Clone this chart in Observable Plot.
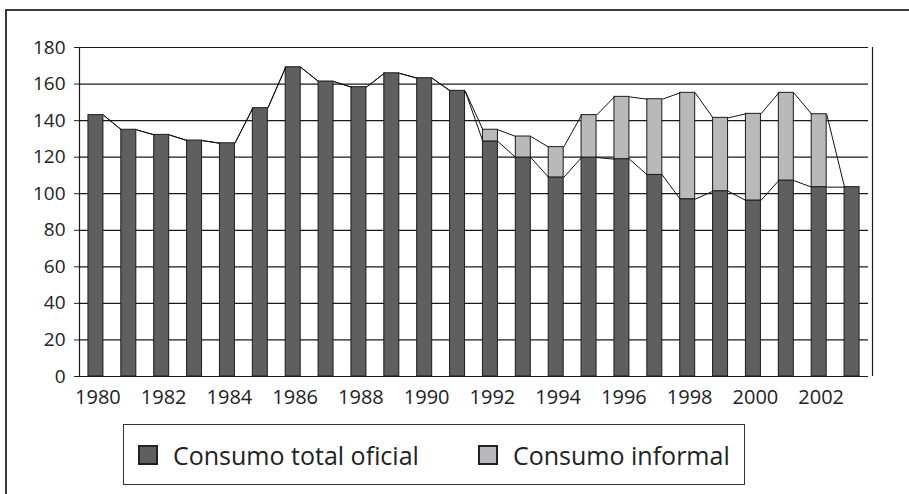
<!DOCTYPE html>
<html>
<head>
<meta charset="utf-8">
<script src="https://cdn.jsdelivr.net/npm/d3@7"></script>
<script src="https://cdn.jsdelivr.net/npm/@observablehq/plot@0.6"></script>
<style>
  html, body { margin: 0; padding: 0; background: #fff; }
  #wrap { position: relative; width: 909px; height: 494px; overflow: hidden; background: #fff; font-family: "Open Sans", sans-serif; color: #222; }
  #frame { position: absolute; left: 5px; top: 9px; width: 1000px; height: 600px; border-top: 2px solid #3a3a3a; border-left: 2px solid #3a3a3a; }
  #chart { position: absolute; left: 0; top: 0; }
  #chart g[aria-label="x-axis tick label"] { font-size: 20px; }
  #chart g[aria-label="y-axis tick label"] { font-size: 19px; }
  #legend { position: absolute; left: 123px; top: 424px; width: 620px; height: 59px; border: 1px solid #333; background: #fff; }
  .item { position: absolute; top: 0; height: 59px; display: flex; align-items: center; font-size: 25px; color: #222; white-space: nowrap; }
  .sw { width: 16px; height: 16px; border: 2px solid #222; margin-right: 15px; }
</style>
</head>
<body>
<div id="wrap">
  <div id="frame"></div>
  <div id="chart"></div>
  <div id="legend"></div>
</div>
<script>
// ---- data ----
const years = [1980, 1981, 1982, 1983, 1984, 1985, 1986, 1987, 1988, 1989, 1990, 1991,
               1992, 1993, 1994, 1995, 1996, 1997, 1998, 1999, 2000, 2001, 2002, 2003];
const consumoOficial = [143, 135, 132.2, 129.1, 127.6, 146.8, 169.2, 161.4, 158.3, 165.9, 163.2, 156.3,
                        128.6, 119.8, 108.9, 119.8, 118.9, 110.3, 97, 101.4, 96.3, 107.2, 103.6, 103.6];
const consumoInformal = [0, 0, 0, 0, 0, 0, 0, 0, 0, 0, 0, 0,
                         6.4, 11.5, 16.6, 23.2, 34.1, 41.4, 58.2, 40.1, 47.4, 48, 39.9, 0];
const yTicks = [0, 20, 40, 60, 80, 100, 120, 140, 160, 180];
const xTickLabels = [1980, 1982, 1984, 1986, 1988, 1990, 1992, 1994, 1996, 1998, 2000, 2002];
const seriesNames = ["Consumo total oficial", "Consumo informal"];
const seriesColors = ["#5f5f5f", "#b9b9bc"];

// ---- table ----
const rows = years.map((year, i) => ({
  year,
  oficial: consumoOficial[i],
  informal: consumoInformal[i],
  total: consumoOficial[i] + consumoInformal[i]
}));
const hw = 0.228; // half bar width, in band units
const pairs = rows.slice(0, -1).map((d, i) => ({a: d, b: rows[i + 1]}));

const chart = Plot.plot({
  width: 909,
  height: 410,
  marginLeft: 79,
  marginRight: 41,
  marginTop: 47,
  marginBottom: 34,
  style: {fontFamily: "'Open Sans', sans-serif", fontSize: "19px", color: "#222", background: "transparent"},
  x: {type: "linear", domain: [years[0] - 0.5, years[years.length - 1] + 0.5], label: null},
  y: {domain: [0, 180], label: null},
  marks: [
    Plot.ruleY(yTicks, {stroke: "#1a1a1a", strokeWidth: 1.2}),
    Plot.ruleX([years[0] - 0.5], {y1: 0, y2: 180, stroke: "#1a1a1a", strokeWidth: 1.2}),
    Plot.ruleX([years[years.length - 1] + 0.5], {y1: 0, y2: 180, dx: 4, stroke: "#1a1a1a", strokeWidth: 1.2}),
    Plot.rect(rows, {x1: d => d.year - hw, x2: d => d.year + hw, y1: 0, y2: "oficial",
      fill: seriesColors[0], stroke: "#1c1c1c", strokeWidth: 1}),
    Plot.rect(rows.filter(d => d.informal > 0), {x1: d => d.year - hw, x2: d => d.year + hw, y1: "oficial", y2: "total",
      fill: seriesColors[1], stroke: "#1c1c1c", strokeWidth: 1}),
    Plot.link(pairs, {x1: d => d.a.year + hw, y1: d => d.a.oficial, x2: d => d.b.year - hw, y2: d => d.b.oficial,
      stroke: "#111", strokeWidth: 1}),
    Plot.link(pairs, {x1: d => d.a.year + hw, y1: d => d.a.total, x2: d => d.b.year - hw, y2: d => d.b.total,
      stroke: "#111", strokeWidth: 1}),
    Plot.axisY({ticks: yTicks, tickSize: 5, tickPadding: 9, label: null}),
    Plot.axisX({ticks: xTickLabels, tickSize: 0, tickPadding: 13, dx: 2, label: null,
      tickFormat: d => String(d)})
  ]
});
document.getElementById("chart").appendChild(chart);

// ---- legend ----
const legend = document.getElementById("legend");
const lefts = [14, 354];
seriesNames.forEach((name, i) => {
  const it = document.createElement("div");
  it.className = "item";
  it.style.left = lefts[i] + "px";
  const sw = document.createElement("div");
  sw.className = "sw";
  sw.style.background = seriesColors[i];
  const t = document.createElement("span");
  t.textContent = name;
  it.appendChild(sw);
  it.appendChild(t);
  legend.appendChild(it);
});
</script>
</body>
</html>
